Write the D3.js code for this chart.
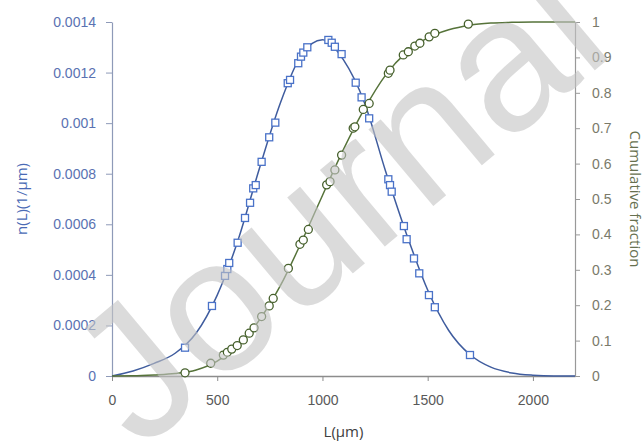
<!DOCTYPE html>
<html>
<head>
<meta charset="utf-8">
<script src="https://cdn.jsdelivr.net/npm/d3@7"></script>
<style>
    body { margin: 0; background: #fff; }
    svg { display: block; font-family: "Open Sans", sans-serif; }
</style>
</head>
<body>
<div id="chart"></div>
<script>
// number density n(L), fitted curve
const lineL = [0, 100, 200, 300, 400, 500, 600, 700, 800, 900, 1000, 1100, 1200, 1300, 1400, 1500, 1600, 1700, 1800, 1900, 2000, 2100, 2200];
const densityLine = [0, 0.00002, 0.00005, 0.00009, 0.00017, 0.00032, 0.00054, 0.00082, 0.00108, 0.00127, 0.00133, 0.00125, 0.00108, 0.00081, 0.00056, 0.00034, 0.00018, 0.000085, 0.000035, 0.000012, 0.000003, 0, 0];
const cumulativeLine = [0, 0.0005, 0.003, 0.007, 0.017, 0.042, 0.088, 0.158, 0.255, 0.378, 0.51, 0.64, 0.755, 0.85, 0.915, 0.955, 0.978, 0.991, 0.997, 0.999, 1, 1, 1];

// measured points
const densityL = [347, 475, 537, 548, 557, 597, 632, 656, 671, 683, 711, 747, 776, 835, 846, 885, 898, 909, 928, 1028, 1044, 1059, 1091, 1158, 1186, 1222, 1313, 1321, 1329, 1387, 1400, 1435, 1460, 1506, 1534, 1701];
const densityN = [0.000112, 0.000277, 0.000396, 0.000423, 0.000447, 0.000527, 0.000625, 0.000685, 0.000742, 0.000755, 0.000847, 0.000944, 0.001002, 0.001158, 0.001171, 0.001237, 0.001263, 0.001279, 0.0013, 0.001329, 0.001318, 0.001302, 0.001273, 0.00116, 0.001102, 0.001019, 0.000778, 0.000755, 0.000729, 0.000593, 0.000541, 0.000465, 0.000406, 0.00032, 0.000272, 0.000083];
const cumulativeL = [347, 469, 529, 548, 569, 595, 624, 652, 675, 711, 747, 766, 838, 893, 909, 933, 1020, 1036, 1059, 1091, 1146, 1154, 1194, 1222, 1313, 1321, 1384, 1408, 1439, 1463, 1507, 1534, 1693];
const cumulativeF = [0.009, 0.036, 0.059, 0.067, 0.076, 0.086, 0.102, 0.121, 0.136, 0.168, 0.198, 0.219, 0.304, 0.372, 0.384, 0.414, 0.54, 0.549, 0.582, 0.624, 0.7, 0.704, 0.753, 0.77, 0.855, 0.864, 0.907, 0.916, 0.932, 0.94, 0.958, 0.968, 0.994];

const xTicks = [0, 500, 1000, 1500, 2000];
const xTickLabels = ["0", "500", "1000", "1500", "2000"];
const leftTicks = [0, 0.0002, 0.0004, 0.0006, 0.0008, 0.001, 0.0012, 0.0014];
const leftTickLabels = ["0", "0.0002", "0.0004", "0.0006", "0.0008", "0.001", "0.0012", "0.0014"];
const rightTicks = [0, 0.1, 0.2, 0.3, 0.4, 0.5, 0.6, 0.7, 0.8, 0.9, 1];
const rightTickLabels = ["0", "0.1", "0.2", "0.3", "0.4", "0.5", "0.6", "0.7", "0.8", "0.9", "1"];

const width = 644;
const height = 443;
const margin = { top: 22, right: 69, bottom: 67, left: 112 };
const innerWidth = width - margin.left - margin.right;
const innerHeight = height - margin.top - margin.bottom;

const svg = d3.select("#chart")
    .append("svg")
    .attr("width", width)
    .attr("height", height);

const g = svg.append("g")
    .attr("transform", `translate(${margin.left},${margin.top})`);

const xScale = d3.scaleLinear().domain([0, 2200]).range([0, innerWidth]);
const yLeft = d3.scaleLinear().domain([0, 0.0014]).range([innerHeight, 0]);
const yRight = d3.scaleLinear().domain([0, 1]).range([innerHeight, 0]);

// axes
const xAxis = g.append("g")
    .attr("transform", `translate(0,${innerHeight})`)
    .call(d3.axisBottom(xScale).tickValues(xTicks).tickFormat((d, i) => xTickLabels[i]).tickSize(5).tickSizeOuter(0).tickPadding(14));
xAxis.select(".domain").attr("stroke", "#8c8c8c").attr("stroke-width", 1.3);
xAxis.selectAll(".tick line").attr("stroke", "#8c8c8c");
xAxis.selectAll("text").style("font-size", "14px").style("fill", "#595959");

const leftAxis = g.append("g")
    .call(d3.axisLeft(yLeft).tickValues(leftTicks).tickFormat((d, i) => leftTickLabels[i]).tickSize(6).tickSizeOuter(0).tickPadding(10));
leftAxis.select(".domain").attr("stroke", "#8e9ab8").attr("stroke-width", 1.2);
leftAxis.selectAll(".tick line").attr("stroke", "#8e9ab8");
leftAxis.selectAll("text").style("font-size", "14px").style("fill", "#5a72b2");

const rightAxis = g.append("g")
    .attr("transform", `translate(${innerWidth},0)`)
    .call(d3.axisRight(yRight).tickValues(rightTicks).tickFormat((d, i) => rightTickLabels[i]).tickSize(5).tickSizeOuter(0).tickPadding(12));
rightAxis.select(".domain").attr("stroke", "#999999").attr("stroke-width", 1.2);
rightAxis.selectAll(".tick line").attr("stroke", "#999999");
rightAxis.selectAll("text").style("font-size", "14px").style("fill", "#7a7a6a");

// axis titles
g.append("text")
    .attr("x", innerWidth / 2)
    .attr("y", innerHeight + 61)
    .attr("text-anchor", "middle")
    .style("font-size", "15px")
    .style("fill", "#404040")
    .text("L(μm)");

g.append("text")
    .attr("transform", "rotate(-90)")
    .attr("x", -innerHeight / 2)
    .attr("y", -margin.left + 27)
    .attr("text-anchor", "middle")
    .style("font-size", "15px")
    .style("fill", "#4a6ab5")
    .text("n(L)(1/μm)");

g.append("text")
    .attr("transform", "rotate(90)")
    .attr("x", innerHeight / 2)
    .attr("y", -innerWidth - margin.right + 14)
    .attr("text-anchor", "middle")
    .style("font-size", "15px")
    .style("fill", "#66704f")
    .text("Cumulative fraction");

// series
const densityPath = d3.line()
    .x((d, i) => xScale(lineL[i]))
    .y(d => yLeft(d))
    .curve(d3.curveMonotoneX);

const cumulativePath = d3.line()
    .x((d, i) => xScale(lineL[i]))
    .y(d => yRight(d))
    .curve(d3.curveMonotoneX);

g.append("path")
    .datum(densityLine)
    .attr("fill", "none")
    .attr("stroke", "#3f5c9e")
    .attr("stroke-width", 1.5)
    .attr("d", densityPath);

g.selectAll(".sq")
    .data(densityN)
    .enter().append("rect")
    .attr("class", "sq")
    .attr("x", (d, i) => xScale(densityL[i]) - 3.5)
    .attr("y", d => yLeft(d) - 3.5)
    .attr("width", 7)
    .attr("height", 7)
    .attr("fill", "#fff")
    .attr("stroke", "#4a72c8")
    .attr("stroke-width", 1.3);

g.append("path")
    .datum(cumulativeLine)
    .attr("fill", "none")
    .attr("stroke", "#56733a")
    .attr("stroke-width", 1.5)
    .attr("d", cumulativePath);

g.selectAll(".circ")
    .data(cumulativeF)
    .enter().append("circle")
    .attr("class", "circ")
    .attr("cx", (d, i) => xScale(cumulativeL[i]))
    .attr("cy", d => yRight(d))
    .attr("r", 4)
    .attr("fill", "#fff")
    .attr("stroke", "#46602c")
    .attr("stroke-width", 1.3);

// watermark
svg.append("text")
    .attr("transform", "translate(140,452) rotate(-40)")
    .style("font-family", "'Liberation Sans', Arial, sans-serif")
    .style("font-size", "190px")
    .style("fill", "#c4c4c4")
    .style("opacity", 0.6)
    .text("Journal");
</script>
</body>
</html>
